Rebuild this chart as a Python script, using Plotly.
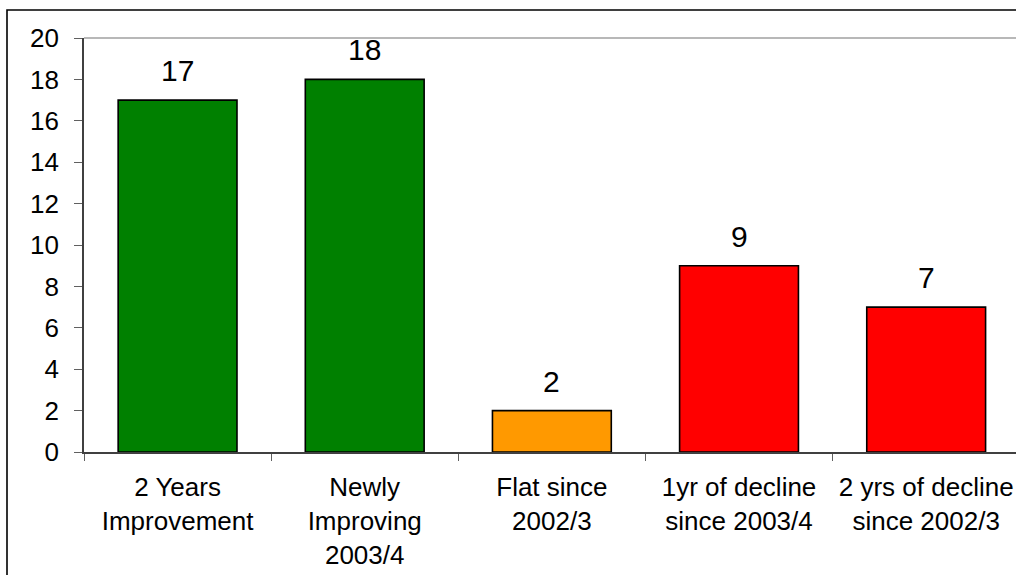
import plotly.graph_objects as go

# Indicator trend counts
categories = [
    "2 Years<br>Improvement",
    "Newly<br>Improving<br>2003/4",
    "Flat since<br>2002/3",
    "1yr of decline<br>since 2003/4",
    "2 yrs of decline<br>since 2002/3",
]
counts = [17, 18, 2, 9, 7]
bar_colors = ["#008000", "#008000", "#FF9900", "#FF0000", "#FF0000"]
y_ticks = [0, 2, 4, 6, 8, 10, 12, 14, 16, 18, 20]

W, H = 1016, 575
M_L, M_R, M_T, M_B = 84, 0, 38, 123
FONT = "Liberation Sans, Arial, sans-serif"

fig = go.Figure()
fig.add_trace(go.Bar(
    x=categories,
    y=counts,
    marker=dict(color=bar_colors, line=dict(color="#000000", width=1.6)),
    width=0.635,
    hoverinfo="skip",
))

# value labels above each bar
for cat, val in zip(categories, counts):
    fig.add_annotation(
        x=cat, y=val, text=str(val), showarrow=False,
        yanchor="bottom", yshift=11,
        font=dict(family=FONT, size=30, color="#000000"),
    )

plot_w = W - M_L - M_R
plot_h = H - M_T - M_B
# outer frame of the chart
fig.add_shape(
    type="rect", xref="paper", yref="paper",
    x0=(7 - M_L) / plot_w, x1=1.2,
    y0=-0.6, y1=(H - M_B - 10) / plot_h,
    line=dict(color="#000000", width=1.6), fillcolor="rgba(0,0,0,0)",
    layer="below",
)
# plot-area top border
fig.add_shape(
    type="line", xref="paper", yref="paper",
    x0=0, x1=1, y0=1, y1=1,
    line=dict(color="#A0A0A0", width=1.6),
)

fig.update_layout(
    width=W, height=H,
    margin=dict(l=M_L, r=M_R, t=M_T, b=M_B),
    paper_bgcolor="white", plot_bgcolor="white",
    showlegend=False,
    font=dict(family=FONT, color="#000000"),
    bargap=0.365,
)
fig.update_xaxes(
    type="category",
    range=[-0.5, 4.48],
    showgrid=False,
    showline=True, linecolor="#404040", linewidth=1.6,
    ticks="outside", tickson="boundaries", ticklen=7, tickwidth=1.3, tickcolor="#606060",
    tickfont=dict(family=FONT, size=26, color="#000000"),
    ticklabelstandoff=11,
)
fig.update_yaxes(
    range=[0, 20],
    tickvals=y_ticks,
    showgrid=False, zeroline=False,
    showline=True, linecolor="#404040", linewidth=1.6,
    ticks="outside", ticklen=8, tickwidth=1.3, tickcolor="#606060",
    tickfont=dict(family=FONT, size=26, color="#000000"),
    ticklabelstandoff=10,
)

fig.write_html("out.html")
